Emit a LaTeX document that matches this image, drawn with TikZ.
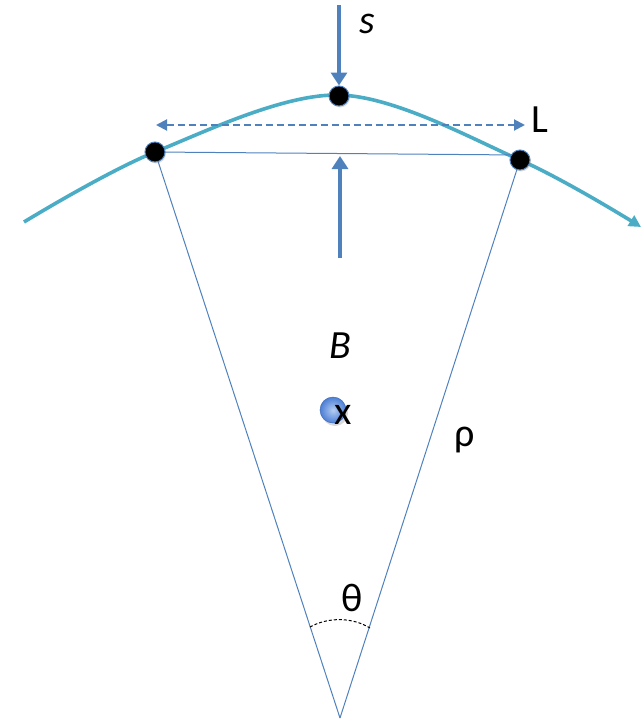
\documentclass[tikz,border=0pt]{standalone}
\usepackage{fontspec}
\setmainfont{Carlito}
\usetikzlibrary{arrows.meta,shadows}
\definecolor{teal5}{HTML}{4BACC6}
\definecolor{blue1}{HTML}{4F81BD}
\definecolor{ballin}{HTML}{B4CCF2}
\definecolor{ballout}{HTML}{4C7FD6}
\tikzset{
  curveline/.style={draw=teal5, line width=3.6pt},
  thinline/.style={draw=blue1, line width=1pt},
  bigarrow/.style={draw=blue1, line width=4.2pt, -{Triangle[length=13pt,width=16pt]}},
  dasharrow/.style={draw=blue1, line width=2pt, dash pattern=on 7pt off 4pt, {Triangle[length=11pt,width=11pt]}-{Triangle[length=11pt,width=11pt]}},
  dotnode/.style={circle, fill=black, draw=blue1, line width=1pt, minimum size=20pt, inner sep=0pt, drop shadow={opacity=0.25,shadow xshift=1pt,shadow yshift=-1.5pt}},
  lbl/.style={font=\fontsize{40}{44}\selectfont, inner sep=0pt},
  ilbl/.style={font=\fontsize{40}{44}\selectfont\itshape, inner sep=0pt},
}
\begin{document}
\begin{tikzpicture}[x=1pt,y=-1pt]
\useasboundingbox (0,0) rectangle (641,726);
\coordinate (O) at (340,718);
\coordinate (sTop) at (339,5);
\coordinate (upBot) at (340,258);
\coordinate (upTop) at (340,156);
\coordinate (dL) at (156,125);
\coordinate (dR) at (525,125);
\coordinate (arcL) at (310,627);
\coordinate (arcR) at (370,628);
% curve
\draw[curveline, -{Triangle[length=12pt,width=12pt]}] plot[smooth, tension=0.55] coordinates {(24,222) (155,152) (339,95) (520,160) (641,227)};
% radial lines
\draw[thinline] (155,152) -- (O);
\draw[thinline] (520,160) -- (O);
\draw[thinline] (155,152) -- (520,155);
% dots
\node[dotnode] (A) at (155,152) {};
\node[dotnode] (P) at (339,96) {};
\node[dotnode] (C) at (520,160) {};
% arrows
\draw[bigarrow] (sTop) -- (P.north);
\draw[bigarrow] (upBot) -- (upTop);
\draw[dasharrow] (dL) -- (dR);
% angle arc
\draw[black, line width=1pt, dash pattern=on 3pt off 2pt] (arcL) .. controls (328,617) and (352,617) .. (arcR);
% ball
\node[circle, minimum size=26pt, inner sep=0pt, inner color=ballin, outer color=ballout, draw=ballout!85!black, line width=0.5pt, drop shadow={opacity=0.3,shadow xshift=2pt,shadow yshift=-3pt}] (ball) at (333,410) {};
% labels
\node[ilbl] (s) at (367,24) {s};
\node[lbl] (L) at (540,120) {L};
\node[ilbl] (B) at (340,346) {B};
\node[lbl] (x) at (343,415) {x};
\node[lbl] (rho) at (465,440) {ρ};
\node[lbl] (theta) at (352,598) {θ};
\end{tikzpicture}
\end{document}
